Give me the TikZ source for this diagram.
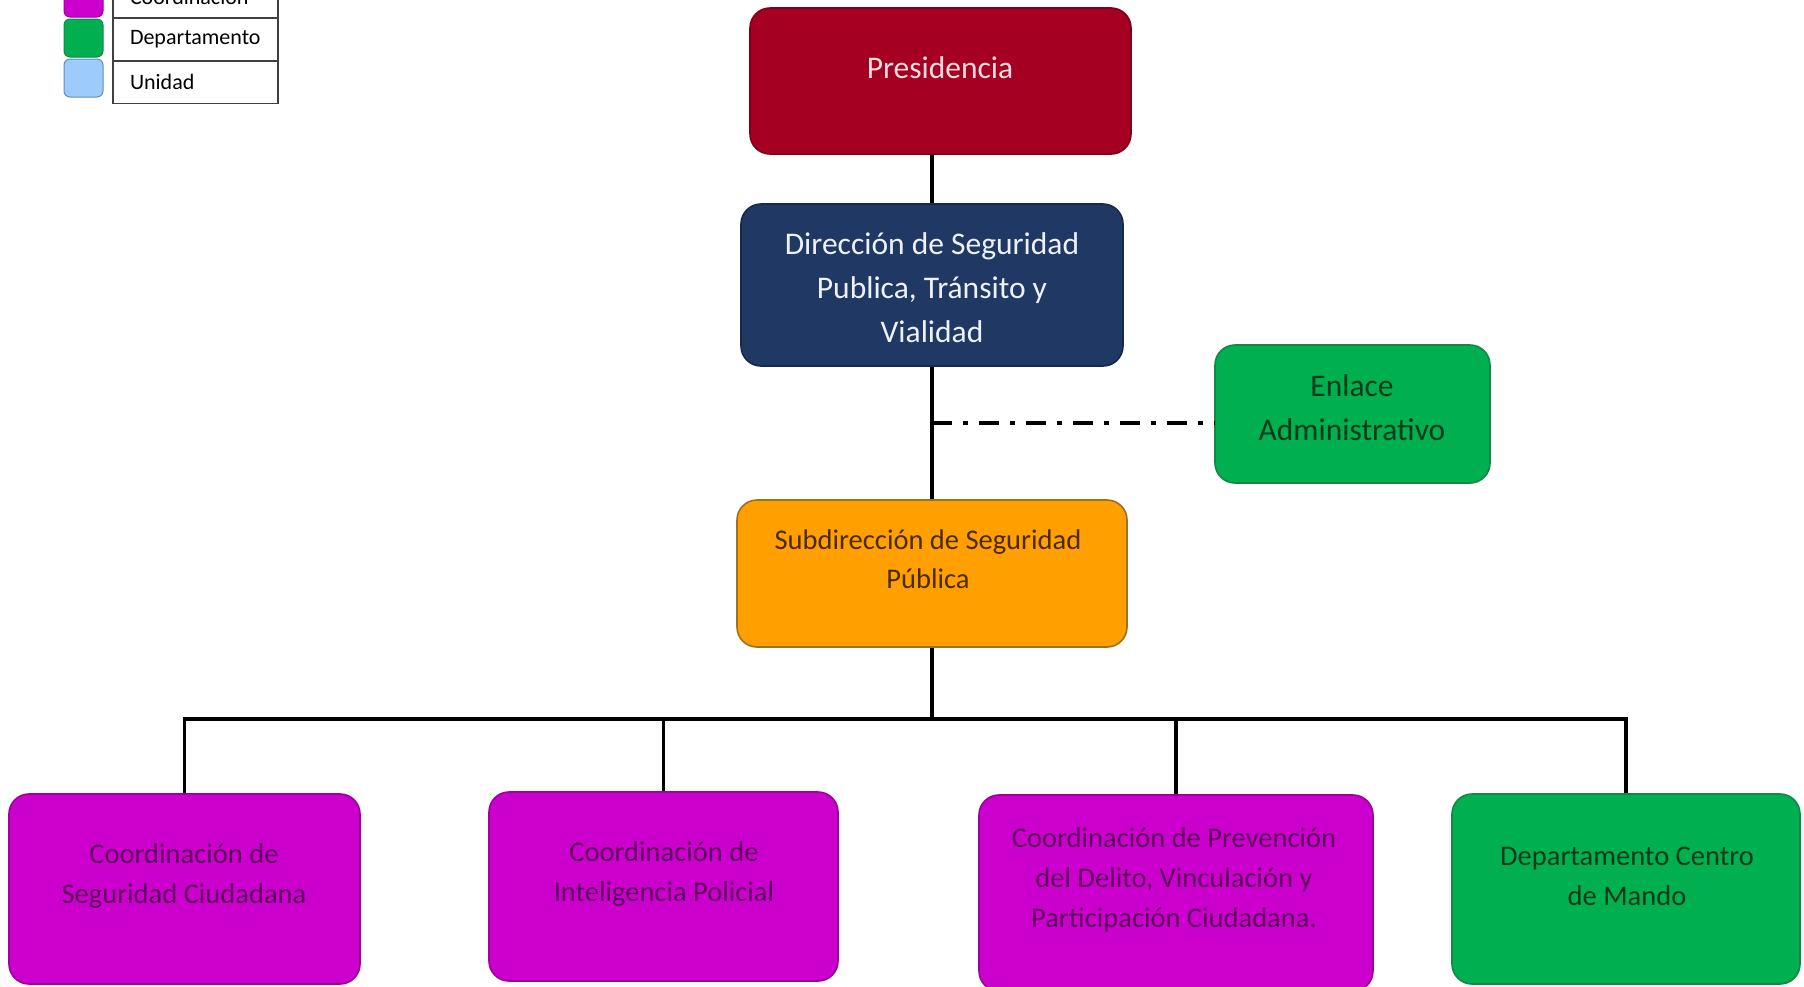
\documentclass[tikz,border=0pt]{standalone}
\usepackage{fontspec}
\setmainfont{Carlito}
\definecolor{presred}{HTML}{A50021}
\definecolor{presedge}{HTML}{7E0019}
\definecolor{presink}{HTML}{F6DCE2}
\definecolor{dirblue}{HTML}{1F3864}
\definecolor{diredge}{HTML}{16294A}
\definecolor{dirink}{HTML}{EEF2F8}
\definecolor{deptgreen}{HTML}{00B050}
\definecolor{deptedge}{HTML}{12874A}
\definecolor{deptink}{HTML}{0B3A18}
\definecolor{suborange}{HTML}{FF9F00}
\definecolor{subedge}{HTML}{A0701E}
\definecolor{subink}{HTML}{4A2A00}
\definecolor{coordmag}{HTML}{CC00CC}
\definecolor{coordedge}{HTML}{9E009E}
\definecolor{coordink}{HTML}{5E005E}
\definecolor{unitblue}{HTML}{9DCBFA}
\definecolor{unitedge}{HTML}{5F8DC0}
\begin{document}
\begin{tikzpicture}[x=1pt,y=-1pt,
    box/.style={draw, rounded corners=20pt, line width=1.6pt, inner sep=0pt},
    bigtxt/.style={align=center, font=\fontsize{31.5}{44}\selectfont},
    midtxt/.style={align=center, font=\fontsize{28.5}{39}\selectfont},
    smalltxt/.style={align=center, font=\fontsize{28.5}{40}\selectfont},
    legswatch/.style={draw, rounded corners=6pt, line width=1pt, minimum width=39pt, minimum height=38pt, inner sep=0pt},
    legcell/.style={draw=black!75, line width=1.4pt, minimum width=165pt, minimum height=43pt, text width=131pt, inner xsep=17pt, inner ysep=0pt, align=left, font=\fontsize{22}{25}\selectfont},
    link/.style={line width=3.2pt},
    auxlink/.style={line width=3.2pt, dash pattern=on 20pt off 11pt on 5pt off 11pt}]
  \useasboundingbox (0,0) rectangle (1804,986);
  \clip (0,0) rectangle (1804,986);

  \node[legswatch, fill=coordmag, draw=coordedge] (swc) at (83.5,-2) {};
  \node[legswatch, fill=deptgreen, draw=deptedge] (swd) at (83.5,38) {};
  \node[legswatch, fill=unitblue, draw=unitedge] (swu) at (83.5,78) {};
  \node[legcell] (lgc) at (195.5,-3.5) {Coordinación};
  \node[legcell] (lgd) at (195.5,39.5) {Departamento};
  \node[legcell] (lgu) at (195.5,82) {Unidad};

  \node[box, fill=presred, draw=presedge, minimum width=381pt, minimum height=146pt] (pres) at (940.5,81) {};
  \node[bigtxt, text=presink] (presT) at (940,68) {Presidencia};
  \node[box, fill=dirblue, draw=diredge, minimum width=382pt, minimum height=162pt] (dir) at (932,285) {};
  \node[bigtxt, text=dirink] (dirT) at (932,288) {Dirección de Seguridad\\Publica, Tránsito y\\Vialidad};
  \node[box, fill=deptgreen, draw=deptedge, minimum width=275pt, minimum height=138pt] (enl) at (1352.5,414) {};
  \node[bigtxt, text=deptink] (enlT) at (1352,408) {Enlace\\Administrativo};
  \node[box, fill=suborange, draw=subedge, minimum width=390pt, minimum height=147pt] (sub) at (932,573.5) {};
  \node[midtxt, text=subink] (subT) at (928,559.5) {Subdirección de Seguridad\\Pública};

  \node[box, fill=coordmag, draw=coordedge, minimum width=351pt, minimum height=190pt] (csc) at (184.5,889) {};
  \node[smalltxt, text=coordink] (cscT) at (184,876.5) {Coordinación de\\Seguridad Ciudadana};
  \node[box, fill=coordmag, draw=coordedge, minimum width=349pt, minimum height=189pt] (cip) at (663.5,886.5) {};
  \node[smalltxt, text=coordink] (cipT) at (664,874.5) {Coordinación de\\Inteligencia Policial};
  \node[box, fill=coordmag, draw=coordedge, minimum width=394pt, minimum height=196pt] (cpd) at (1176,893) {};
  \node[smalltxt, text=coordink] (cpdT) at (1174,880) {Coordinación de Prevención\\del Delito, Vinculación y\\Participación Ciudadana.};
  \node[box, fill=deptgreen, draw=deptedge, minimum width=348pt, minimum height=190pt] (dcm) at (1626,889) {};
  \node[smalltxt, text=deptink] (dcmT) at (1627,876.5) {Departamento Centro\\de Mando};

  \coordinate (bus) at (932,719);
  \coordinate (enlJ) at (932,423);
  \draw[link] (dir.north |- pres.south) -- (dir.north);
  \draw[link] (dir.south) -- (sub.north);
  \draw[auxlink] (enlJ) -- (enlJ -| enl.west);
  \draw[link] (sub.south) -- (bus);
  \draw[link] (csc.north) -- (csc.north |- bus) -- (dcm.north |- bus) -- (dcm.north);
  \foreach \b in {cip,cpd}
    \draw[link] (\b.north |- bus) -- (\b.north);
\end{tikzpicture}
\end{document}
